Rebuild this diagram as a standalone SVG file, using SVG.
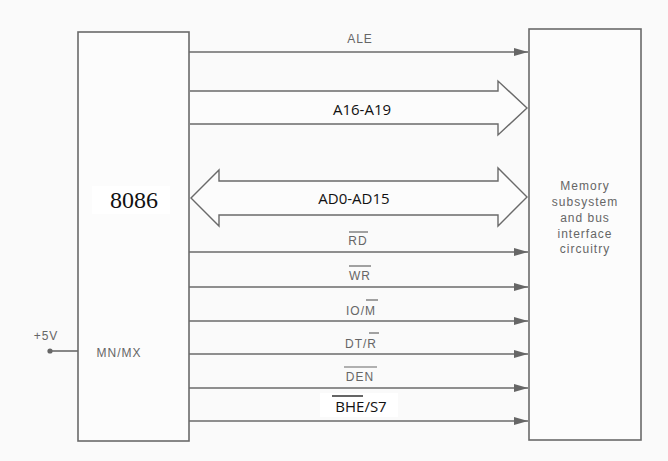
<svg xmlns="http://www.w3.org/2000/svg" width="668" height="461" viewBox="0 0 668 461">
<style>
.box{fill:#fcfcfc;stroke:#6a6a6a;stroke-width:1.6}
.ln{fill:none;stroke:#6a6a6a;stroke-width:1.6}
.bus{fill:#fcfcfc;stroke:#6a6a6a;stroke-width:1.4;stroke-linejoin:miter}
.sig{font-family:"Liberation Sans",Arial,sans-serif;font-size:12px;fill:#666;text-anchor:middle;letter-spacing:1px}
.big{font-family:"Open Sans","Liberation Sans",sans-serif;font-size:15px;fill:#111;text-anchor:middle}
.mem{font-family:"Liberation Sans",Arial,sans-serif;font-size:12px;fill:#666;text-anchor:middle;letter-spacing:1px}
.ov{stroke:#666;stroke-width:1.2}
</style>
<defs>
<marker id="ah" markerWidth="14" markerHeight="8" refX="14" refY="4" orient="auto" markerUnits="userSpaceOnUse">
<path d="M0,0 L14,4 L0,8 Z" fill="#666"/>
</marker>
</defs>
<rect width="668" height="461" fill="#fafafa"/>
<g id="cpu">
<rect class="box" x="78" y="32" width="111" height="409"/>
<rect x="92" y="186" width="78" height="28" fill="#fff"/>
<text x="134" y="208" font-family="'Liberation Serif','DejaVu Serif',serif" font-size="24" fill="#111" text-anchor="middle">8086</text>
<text x="119" y="357" class="sig" font-size="11" letter-spacing="1.5">MN/MX</text>
</g>
<g id="mem">
<rect class="box" x="529" y="29" width="112" height="411"/>
<text class="mem"><tspan x="585" y="190">Memory</tspan><tspan x="585" y="206">subsystem</tspan><tspan x="585" y="222">and bus</tspan><tspan x="585" y="238">interface</tspan><tspan x="585" y="253">circuitry</tspan></text>
</g>
<g id="vcc">
<text x="46" y="340" class="sig" font-size="11">+5V</text>
<circle cx="50" cy="351" r="2.6" fill="#666"/>
<line class="ln" x1="50" y1="351" x2="78" y2="351"/>
</g>
<g id="connectors">
<line class="ln" x1="189" y1="52" x2="528" y2="52" marker-end="url(#ah)"/>
<text x="360" y="43" class="sig">ALE</text>
<path class="bus" d="M190,91 L498,91 L498,81 L527,108 L498,135 L498,124 L190,124"/>
<text x="362" y="115" class="big">A16-A19</text>
<path class="bus" d="M219,181 L498,181 L498,168 L527,197 L498,226 L498,215 L219,215 L219,226 L191,198 L219,170 Z"/>
<text x="354" y="204" class="big" font-size="16">AD0-AD15</text>
<line class="ln" x1="189" y1="252" x2="528" y2="252" marker-end="url(#ah)"/>
<text x="358" y="245" class="sig">RD</text>
<line class="ov" x1="349" y1="232" x2="368" y2="232"/>
<line class="ln" x1="189" y1="287" x2="528" y2="287" marker-end="url(#ah)"/>
<text x="360" y="280" class="sig">WR</text>
<line class="ov" x1="349" y1="266" x2="371" y2="266"/>
<line class="ln" x1="189" y1="321" x2="528" y2="321" marker-end="url(#ah)"/>
<text x="361" y="315" class="sig">IO/M</text>
<line class="ov" x1="366" y1="300" x2="378" y2="300"/>
<line class="ln" x1="189" y1="354" x2="528" y2="354" marker-end="url(#ah)"/>
<text x="361" y="348" class="sig">DT/R</text>
<line class="ov" x1="369" y1="333" x2="379" y2="333"/>
<line class="ln" x1="189" y1="388" x2="528" y2="388" marker-end="url(#ah)"/>
<text x="360" y="381" class="sig">DEN</text>
<line class="ov" x1="344" y1="367" x2="377" y2="367"/>
<line class="ln" x1="189" y1="421" x2="528" y2="421" marker-end="url(#ah)"/>
<rect x="320" y="393" width="78" height="24" fill="#fff"/>
<text x="361" y="412" class="big">BHE/S7</text>
<line x1="332" y1="396" x2="363" y2="396" stroke="#111" stroke-width="1.3"/>
</g>
</svg>
